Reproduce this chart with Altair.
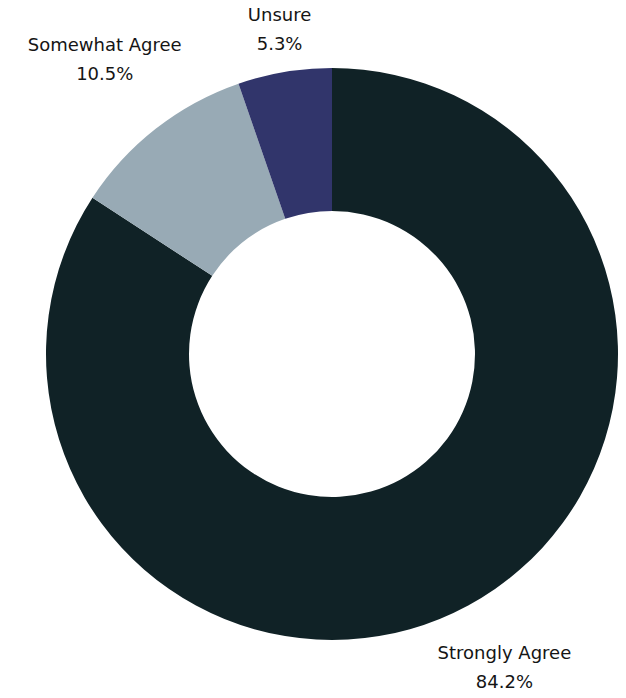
import altair as alt
import pandas as pd

categories = ["Strongly Agree", "Somewhat Agree", "Unsure"]
values = [84.2, 10.5, 5.3]
colors = ["#102226", "#98aab5", "#31356b"]

df = pd.DataFrame({
    "category": categories,
    "value": values,
    "order": list(range(len(categories))),
})
df["label"] = [[c, f"{v:.1f}%"] for c, v in zip(categories, values)]
# rough text width estimate (px) for label placement
df["w"] = [len(c) * 11.5 + sum(ch in "mwMW" for ch in c) * 10 for c in categories]

cx, cy = 324, 346
R_OUT, R_IN = 286, 143

base = alt.Chart(df).encode(
    theta=alt.Theta("value:Q", stack=True),
    order=alt.Order("order:Q"),
)

arcs = base.mark_arc(outerRadius=R_OUT, innerRadius=R_IN, stroke=None).encode(
    x=alt.value(cx),
    y=alt.value(cy),
    color=alt.Color("category:N", scale=alt.Scale(domain=categories, range=colors), legend=None),
)

# label box placed just outside the ring, along each slice's mid-angle
text = alt.Chart(df).transform_joinaggregate(
    total="sum(value)"
).transform_window(
    cum="sum(value)", sort=[alt.SortField("order")], frame=[None, 0]
).transform_calculate(
    mid="2*PI*(datum.cum - datum.value/2)/datum.total",
).transform_calculate(
    lr=f"{R_OUT + 8} + 29*abs(cos(datum.mid)) + datum.w/2*abs(sin(datum.mid))",
).transform_calculate(
    lx=f"{cx + 2} + sin(datum.mid)*datum.lr",
    ly=f"{cy} - cos(datum.mid)*datum.lr - 14.5",
).mark_text(
    fontSize=18, font="DejaVu Sans", color="#151515",
    lineHeight=29, baseline="middle", align="center",
).encode(
    x=alt.X("lx:Q", scale=None),
    y=alt.Y("ly:Q", scale=None),
    text="label",
)

chart = alt.layer(arcs, text).properties(
    width=610, height=682, padding=0,
    autosize=alt.AutoSizeParams(type="none"),
).configure_view(stroke=None)

chart.save("out.html", embed_options={"renderer": "svg", "actions": False})
